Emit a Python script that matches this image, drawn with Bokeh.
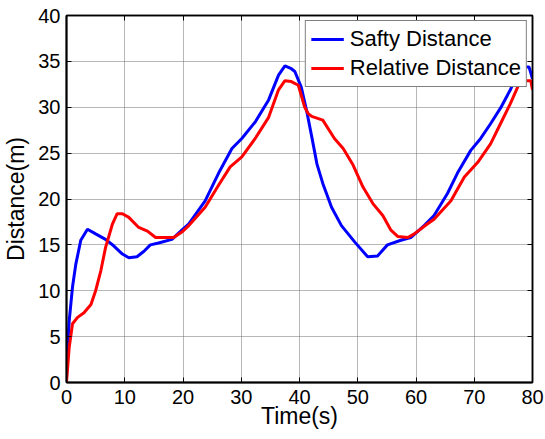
from bokeh.plotting import figure
from bokeh.models import LinearAxis, Range1d, FixedTicker, Legend, LegendItem, ColumnDataSource
from bokeh.embed import file_html
from bokeh.resources import INLINE

# Safety distance (blue)
t_safe = [0, 0.2, 0.46, 1.03, 1.6, 2.45, 3.6, 5.0, 6.7, 8.1, 9.6, 10.7, 12.1, 13.3, 14.4, 15.8, 18.1, 19.8,
          21.0, 23.8, 26.1, 28.4, 30.1, 32.4, 34.7, 36.4, 37.5, 38.6, 39.2, 40.3, 41.2, 42.1, 43.0, 44.0,
          45.5, 47.2, 49.5, 51.7, 53.4, 55.1, 57.4, 59.1, 61.4, 63.1, 65.4, 67.1, 69.4, 71.1, 72.8, 74.5,
          76.2, 77.4, 78.2, 79.4, 80]
d_safe = [0.5, 4.0, 6.7, 10.4, 12.9, 15.5, 16.7, 16.2, 15.6, 14.9, 14.0, 13.6, 13.7, 14.3, 15.0, 15.2, 15.6, 16.6,
          17.3, 19.8, 22.8, 25.5, 26.6, 28.4, 30.8, 33.5, 34.5, 34.2, 33.9, 32.2, 29.7, 26.8, 23.8, 21.7,
          19.1, 17.1, 15.3, 13.7, 13.8, 15.0, 15.5, 15.8, 17.1, 18.2, 20.6, 22.8, 25.3, 26.6, 28.2, 29.9,
          31.9, 33.7, 34.4, 34.4, 33.1]

# Relative distance (red)
t_rel = [0, 0.46, 1.03, 1.9, 3.0, 4.2, 5.0, 5.9, 6.7, 7.9, 8.7, 9.6, 10.7, 12.4, 13.9, 15.3, 17.0, 18.4, 19.8,
         21.0, 23.8, 26.1, 28.1, 30.1, 32.4, 34.7, 36.4, 37.5, 38.6, 39.8, 40.9, 41.5, 42.1, 44.0, 46.0,
         47.5, 49.2, 50.9, 52.6, 54.3, 55.7, 56.9, 58.6, 59.7, 62.0, 63.1, 66.0, 68.3, 70.6, 72.8, 74.5,
         76.2, 77.6, 78.5, 79.7, 80]
d_rel = [0, 3.8, 6.4, 7.1, 7.6, 8.5, 10.0, 12.2, 14.7, 17.3, 18.4, 18.4, 18.0, 16.9, 16.5, 15.8, 15.8, 15.8, 16.4,
         17.1, 19.1, 21.5, 23.5, 24.6, 26.6, 28.9, 31.9, 32.9, 32.8, 32.4, 30.0, 29.3, 29.0, 28.6, 26.6,
         25.5, 23.7, 21.3, 19.5, 18.2, 16.6, 15.9, 15.8, 16.2, 17.3, 17.8, 19.8, 22.4, 24.0, 26.0, 28.2,
         30.4, 32.4, 32.9, 32.9, 31.9]

x_ticks = [0, 10, 20, 30, 40, 50, 60, 70, 80]
y_ticks = [0, 5, 10, 15, 20, 25, 30, 35, 40]
series_names = ["Safty Distance", "Relative Distance"]
x_title = "Time(s)"
y_title = "Distance(m)"

FONT = "Liberation Sans"

p = figure(width=545, height=439, output_backend="svg", toolbar_location=None,
           x_range=Range1d(0, 80), y_range=Range1d(0, 40),
           min_border_left=64, min_border_right=13, min_border_top=15, min_border_bottom=57,
           x_axis_label=x_title, y_axis_label=y_title)

p.outline_line_color = "black"
p.outline_line_width = 1.5
p.background_fill_color = "white"
p.border_fill_color = "white"

for ax, ticks in ((p.xaxis[0], x_ticks), (p.yaxis[0], y_ticks)):
    ax.ticker = FixedTicker(ticks=ticks)
    ax.major_tick_in = 5
    ax.major_tick_out = 0
    ax.minor_tick_line_color = None
    ax.axis_line_color = "black"
    ax.axis_line_width = 2
    ax.major_tick_line_color = "black"
    ax.major_label_text_font = FONT
    ax.major_label_text_font_size = "20px"
    ax.major_label_text_color = "black"
    ax.axis_label_text_font = FONT
    ax.axis_label_text_font_size = "23px"
    ax.axis_label_text_font_style = "normal"
    ax.axis_label_text_color = "black"

p.xaxis.major_label_standoff = 7
p.xaxis.axis_label_standoff = -4
p.yaxis.major_label_standoff = 6
p.yaxis.axis_label_standoff = 6

# inward ticks on the top and right edges of the box (no labels)
for loc, ticks in (("above", x_ticks), ("right", y_ticks)):
    a = LinearAxis(ticker=FixedTicker(ticks=ticks), major_tick_in=5, major_tick_out=0,
                   minor_tick_line_color=None, axis_line_color="black", axis_line_width=1.5,
                   major_tick_line_color="black",
                   major_label_text_font_size="1px", major_label_text_color=None,
                   major_label_standoff=0)
    p.add_layout(a, loc)

p.xgrid.ticker = FixedTicker(ticks=x_ticks)
p.ygrid.ticker = FixedTicker(ticks=y_ticks)
for g in (p.xgrid[0], p.ygrid[0]):
    g.grid_line_color = "#6e6e6e"
    g.grid_line_dash = "1 1"
    g.grid_line_width = 1
    g.grid_line_alpha = 1.0

src_s = ColumnDataSource(dict(t=t_safe, d=d_safe))
src_r = ColumnDataSource(dict(t=t_rel, d=d_rel))
r1 = p.line("t", "d", source=src_s, line_color="#0000ff", line_width=3)
r2 = p.line("t", "d", source=src_r, line_color="#ff0000", line_width=3)

legend = Legend(items=[LegendItem(label=series_names[0], renderers=[r1]),
                       LegendItem(label=series_names[1], renderers=[r2])],
                location="top_right")
legend.label_text_font = FONT
legend.label_text_font_size = "22px"
legend.label_text_color = "black"
legend.glyph_width = 33
legend.glyph_height = 24
legend.label_height = 24
legend.label_standoff = 6
legend.spacing = 3
legend.padding = 5
legend.margin = 5
legend.border_line_color = "black"
legend.border_line_width = 1.5
legend.background_fill_alpha = 1.0
p.add_layout(legend, "center")

open("out.html", "w").write(file_html(p, INLINE))
